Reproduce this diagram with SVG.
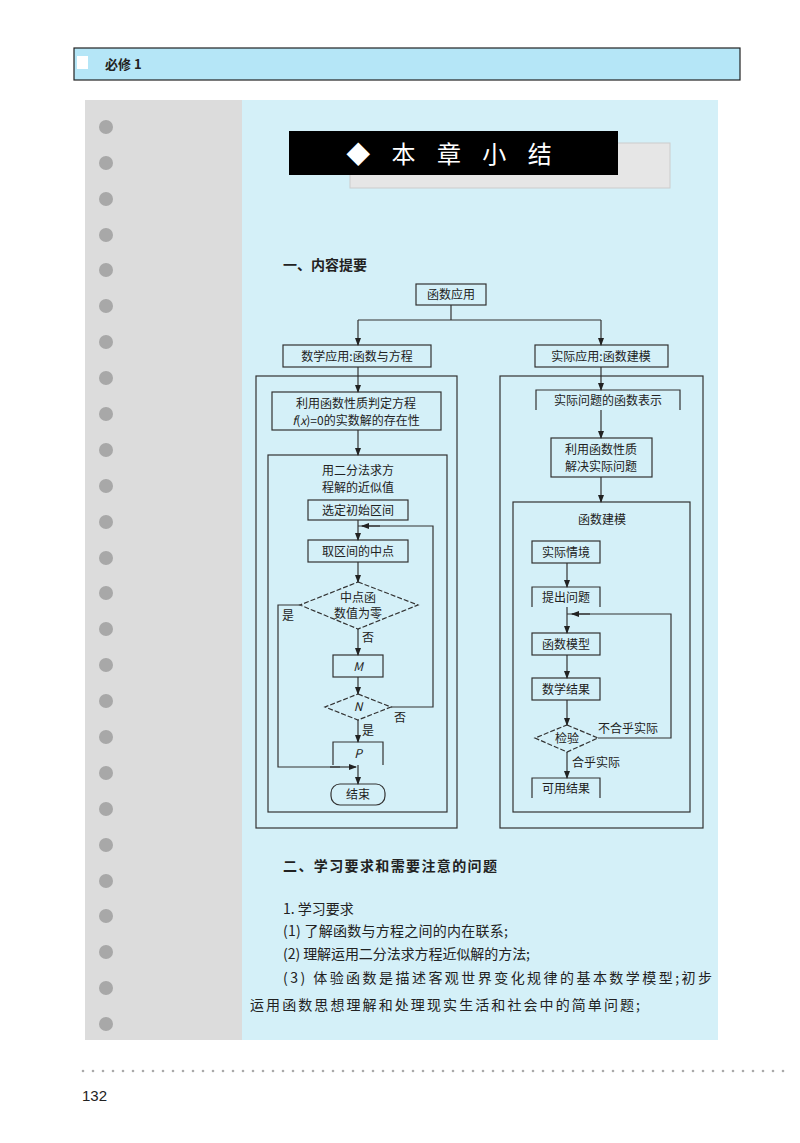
<svg xmlns="http://www.w3.org/2000/svg" width="800" height="1143" viewBox="0 0 800 1143">
<defs>
<marker id="ar" markerWidth="8" markerHeight="8" refX="7" refY="4" orient="auto" markerUnits="userSpaceOnUse"><path d="M0,1 L8,4 L0,7 Z" fill="#222"/></marker>
<pattern id="dots" width="10" height="6" patternUnits="userSpaceOnUse"><circle cx="3" cy="3" r="1.3" fill="#aaa"/></pattern>
</defs>
<style>
text{font-family:"Noto Sans CJK SC","Liberation Serif",serif;fill:#222}
.n rect,.n path{fill:none;stroke:#333;stroke-width:1.2}
.n text{font-size:12px;text-anchor:middle}
.c path{fill:none;stroke:#333;stroke-width:1.2}
.c .a{marker-end:url(#ar)}
.b{font-size:14px}
.lbl{font-size:12px}
</style>
<rect width="800" height="1143" fill="#fff"/>
<rect x="74" y="48" width="666" height="32" fill="#b5e6f7" stroke="#222" stroke-width="1.2"/>
<rect x="77" y="56" width="11" height="13" fill="#fff"/>
<text x="105" y="69" style="font-size:13px;font-weight:bold">必修 1</text>
<rect x="85" y="100" width="157" height="940" fill="#dcdcdc"/>
<rect x="242" y="100" width="476" height="940" fill="#d4f0f8"/>
<g fill="#a8a8a8">
<circle cx="106" cy="127" r="7"/><circle cx="106" cy="163" r="7"/><circle cx="106" cy="199" r="7"/><circle cx="106" cy="235" r="7"/><circle cx="106" cy="270" r="7"/><circle cx="106" cy="306" r="7"/><circle cx="106" cy="342" r="7"/><circle cx="106" cy="378" r="7"/><circle cx="106" cy="414" r="7"/><circle cx="106" cy="450" r="7"/><circle cx="106" cy="486" r="7"/><circle cx="106" cy="522" r="7"/><circle cx="106" cy="558" r="7"/><circle cx="106" cy="593" r="7"/><circle cx="106" cy="629" r="7"/><circle cx="106" cy="665" r="7"/><circle cx="106" cy="701" r="7"/><circle cx="106" cy="737" r="7"/><circle cx="106" cy="773" r="7"/><circle cx="106" cy="809" r="7"/><circle cx="106" cy="845" r="7"/><circle cx="106" cy="881" r="7"/><circle cx="106" cy="916" r="7"/><circle cx="106" cy="952" r="7"/><circle cx="106" cy="988" r="7"/><circle cx="106" cy="1024" r="7"/>
</g>
<rect x="350" y="143" width="320" height="45" fill="#e6e6e6" stroke="#ccc"/>
<rect x="289" y="131" width="329" height="44" fill="#000"/>
<text x="453" y="163" style="font-size:24px;fill:#fff;text-anchor:middle;letter-spacing:8px">◆ 本 章 小 结</text>
<text x="283" y="270" class="b" style="font-weight:bold">一、内容提要</text>

<g class="n" id="outerL"><rect x="256" y="376" width="201" height="452"/></g>
<g class="n" id="outerR"><rect x="500" y="376" width="203" height="452"/></g>
<g class="n" id="innerL"><rect x="268" y="455" width="179" height="357"/><text x="358" y="475">用二分法求方</text><text x="358" y="492">程解的近似值</text></g>
<g class="n" id="innerR"><rect x="513" y="502" width="177" height="310"/><text x="602" y="524">函数建模</text></g>

<g class="n" id="root"><rect x="416" y="284" width="70" height="21"/><text x="451" y="299">函数应用</text></g>
<g class="n" id="mathApp"><rect x="283" y="345" width="148" height="22"/><text x="357" y="361">数学应用:函数与方程</text></g>
<g class="n" id="realApp"><rect x="535" y="345" width="133" height="22"/><text x="601" y="361">实际应用:函数建模</text></g>
<g class="n" id="exist"><rect x="272" y="392" width="169" height="38"/><text x="356" y="408">利用函数性质判定方程</text><text x="356" y="425"><tspan font-style="italic">f</tspan>(<tspan font-style="italic">x</tspan>)=0的实数解的存在性</text></g>
<g class="n" id="init"><rect x="308" y="500" width="100" height="20"/><text x="358" y="515">选定初始区间</text></g>
<g class="n" id="mid"><rect x="308" y="540" width="100" height="22"/><text x="358" y="556">取区间的中点</text></g>
<g class="n" id="zero"><path d="M358,582 L418,605 L358,629 L300,605 Z" stroke-dasharray="5,2"/><text x="358" y="602">中点函</text><text x="358" y="618">数值为零</text></g>
<g class="n" id="M"><rect x="333" y="655" width="50" height="22"/><text x="358" y="671" font-style="italic">M</text></g>
<g class="n" id="N"><path d="M358,694 L391,707 L358,720 L325,707 Z" stroke-dasharray="5,2"/><text x="358" y="711" font-style="italic">N</text></g>
<g class="n" id="P"><path d="M333,765 V742 H383 V765"/><text x="358" y="758" font-style="italic">P</text></g>
<g class="n" id="end"><rect x="331" y="784" width="54" height="21" rx="9"/><text x="358" y="799">结束</text></g>

<g class="n" id="repr"><path d="M536,410 V390 H680 V410"/><text x="608" y="405">实际问题的函数表示</text></g>
<g class="n" id="solve"><rect x="551" y="438" width="101" height="39"/><text x="601" y="454">利用函数性质</text><text x="601" y="471">解决实际问题</text></g>
<g class="n" id="situ"><rect x="532" y="541" width="68" height="22"/><text x="566" y="557">实际情境</text></g>
<g class="n" id="ques"><path d="M532,607 V587 H600 V607"/><text x="566" y="602">提出问题</text></g>
<g class="n" id="model"><rect x="532" y="633" width="68" height="22"/><text x="566" y="649">函数模型</text></g>
<g class="n" id="result"><rect x="532" y="678" width="68" height="22"/><text x="566" y="694">数学结果</text></g>
<g class="n" id="check"><path d="M567,725 L598,738 L567,752 L535,738 Z" stroke-dasharray="5,2"/><text x="567" y="743">检验</text></g>
<g class="n" id="usable"><path d="M532,798 V778 H600 V798"/><text x="566" y="793">可用结果</text></g>

<g class="c" id="connectors">
<path d="M451,305 V320"/><path d="M358,320 H601"/>
<path class="a" d="M358,320 V345"/><path class="a" d="M601,320 V345"/>
<path class="a" d="M358,367 V392"/><path class="a" d="M358,430 V455"/>
<path class="a" d="M358,520 V540"/><path d="M391,707 H433 V526 H358"/><path class="a" d="M380,526 H362"/>
<path class="a" d="M358,562 V582"/><path class="a" d="M358,629 V655"/><path class="a" d="M358,677 V694"/>
<path class="a" d="M358,720 V742"/><path class="a" d="M358,765 V784"/>
<path d="M300,605 H278 V767 H340"/><path class="a" d="M330,767 H356"/>
<path class="a" d="M601,367 V390"/><path class="a" d="M601,410 V438"/><path class="a" d="M601,477 V502"/>
<path class="a" d="M567,563 V587"/><path class="a" d="M567,607 V633"/><path class="a" d="M567,655 V678"/><path class="a" d="M567,700 V725"/><path class="a" d="M567,752 V778"/>
<path d="M598,738 H671 V614 H567"/><path class="a" d="M590,614 H572"/>
</g>
<text x="282" y="620" class="lbl">是</text><text x="362" y="642" class="lbl">否</text>
<text x="394" y="722" class="lbl">否</text><text x="362" y="735" class="lbl">是</text>
<text x="598" y="733" class="lbl">不合乎实际</text><text x="572" y="767" class="lbl">合乎实际</text>

<text x="283" y="871" class="b" style="font-weight:bold" textLength="214">二、学习要求和需要注意的问题</text>
<text x="283" y="914" class="b">1. 学习要求</text>
<text x="283" y="936" class="b" textLength="225">(1) 了解函数与方程之间的内在联系;</text>
<text x="283" y="959" class="b" textLength="247">(2) 理解运用二分法求方程近似解的方法;</text>
<text x="283" y="983" class="b" textLength="429">(3) 体验函数是描述客观世界变化规律的基本数学模型;初步</text>
<text x="250" y="1010" class="b" textLength="390">运用函数思想理解和处理现实生活和社会中的简单问题;</text>
<rect x="75" y="1069" width="715" height="6" fill="url(#dots)"/>
<text x="82" y="1101" style="font-size:15px;font-family:'Liberation Sans',sans-serif">132</text>
</svg>
